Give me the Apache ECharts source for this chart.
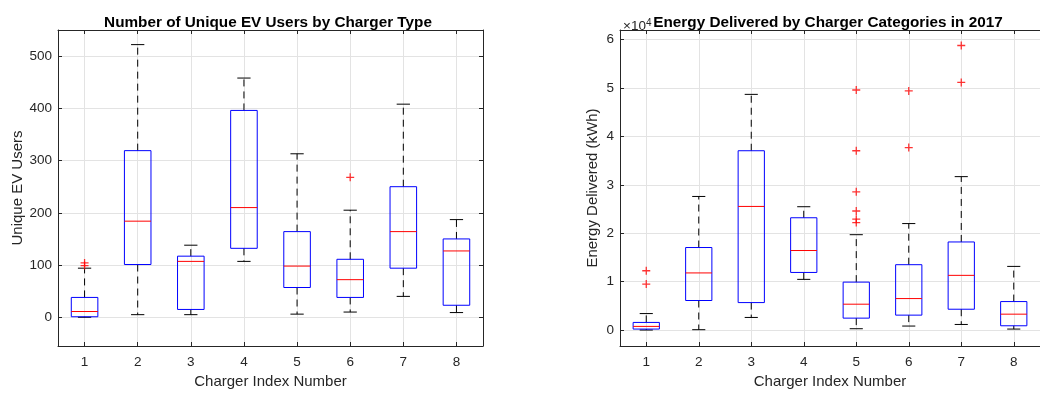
<!DOCTYPE html>
<html>
<head>
<meta charset="utf-8">
<script src="https://cdn.jsdelivr.net/npm/echarts@6/dist/echarts.min.js"></script>
<style>html,body{margin:0;padding:0;background:#fff}#c{width:1040px;height:394px}</style>
</head>
<body>
<div id="c"></div>
<script>
// ---- data ----
const categories = [1, 2, 3, 4, 5, 6, 7, 8];
const xTicks = [1, 2, 3, 4, 5, 6, 7, 8];

// Left: Number of unique EV users
const usersMin    = [0, 5, 5, 107, 6, 10, 40, 9];
const usersQ1     = [1, 101, 15, 132, 57, 38, 94, 23];
const usersMedian = [11, 184, 107, 210, 98, 72, 164, 127];
const usersQ3     = [38, 319, 117, 396, 164, 111, 250, 150];
const usersMax    = [94, 522, 138, 458, 313, 205, 408, 187];
const usersOutliers = [[1, 104], [1, 99], [6, 268]];
const usersTicks  = [0, 100, 200, 300, 400, 500];

// Right: Energy delivered (kWh)
const energyMin    = [0, 70, 2600, 10470, 270, 820, 1150, 200];
const energyQ1     = [200, 6100, 5670, 11900, 2460, 3080, 4300, 880];
const energyMedian = [750, 11800, 25540, 16430, 5340, 6500, 11300, 3280];
const energyQ3     = [1570, 17050, 37050, 23200, 9900, 13500, 18200, 5880];
const energyMax    = [3400, 27600, 48700, 25480, 19700, 22000, 31700, 13150];
const energyOutliers = [[1, 12250], [1, 9500], [5, 49600], [5, 37050], [5, 28560], [5, 24600], [5, 22900], [5, 22200], [6, 49400], [6, 37700], [7, 58800], [7, 51160]];
const energyTicks  = [0, 10000, 20000, 30000, 40000, 50000, 60000];

// ---- helpers ----
const TXT = '#262626';
const AX = '#262626';
const GRID = '#e3e3e3';
const FONT = '"Liberation Sans", Arial, Helvetica, sans-serif';

function boxData(mn, q1, md, q3, mx) {
  return categories.map((c, i) => [c, mn[i], q1[i], md[i], q3[i], mx[i]]);
}

function renderBox(params, api) {
  const x = api.value(0);
  const pMin = api.coord([x, api.value(1)]);
  const pQ1 = api.coord([x, api.value(2)]);
  const pMed = api.coord([x, api.value(3)]);
  const pQ3 = api.coord([x, api.value(4)]);
  const pMax = api.coord([x, api.value(5)]);
  const hw = api.size([0.5, 0])[0] / 2;
  const cw = hw / 2;
  const cx = pMed[0];
  const dash = { stroke: '#000', lineWidth: 1, lineDash: [7, 5], fill: null };
  const solid = { stroke: '#000', lineWidth: 1, fill: null };
  return {
    type: 'group',
    children: [
      { type: 'line', shape: { x1: cx, y1: pQ3[1], x2: cx, y2: pMax[1] }, style: dash },
      { type: 'line', shape: { x1: cx, y1: pQ1[1], x2: cx, y2: pMin[1] }, style: dash },
      { type: 'line', shape: { x1: cx - cw, y1: pMax[1], x2: cx + cw, y2: pMax[1] }, style: solid },
      { type: 'line', shape: { x1: cx - cw, y1: pMin[1], x2: cx + cw, y2: pMin[1] }, style: solid },
      { type: 'rect', shape: { x: cx - hw, y: pQ3[1], width: 2 * hw, height: pQ1[1] - pQ3[1] }, style: { stroke: '#0000ff', lineWidth: 1, fill: null } },
      { type: 'line', shape: { x1: cx - hw, y1: pMed[1], x2: cx + hw, y2: pMed[1] }, style: { stroke: '#ff0000', lineWidth: 1 } }
    ]
  };
}

const PLUS = 'path://M0,4.2L10,4.2L10,5.8L0,5.8Z M4.2,0L5.8,0L5.8,10L4.2,10Z';

function xAxisPair(gridIndex) {
  const base = {
    type: 'value', gridIndex, min: 0.5, max: 8.5,
    axisLine: { show: true, onZero: false, lineStyle: { color: AX, width: 1 } },
    axisTick: { show: true, inside: true, length: 4, customValues: xTicks, lineStyle: { color: AX } },
    splitLine: { show: false },
    axisLabel: { show: false }
  };
  return [
    Object.assign({}, base, {
      position: 'bottom',
      splitLine: { show: true, lineStyle: { color: GRID, width: 1 } },
      axisLabel: { show: true, customValues: xTicks, color: TXT, fontSize: 13.5, fontFamily: FONT, margin: 9 },
      name: 'Charger Index Number', nameLocation: 'middle', nameGap: 28,
      nameTextStyle: { color: TXT, fontSize: 15, fontFamily: FONT }
    }),
    Object.assign({}, base, { position: 'top' })
  ];
}

function yAxisPair(gridIndex, min, max, ticks, name, nameGap, fmt, rightTicks) {
  const base = {
    type: 'value', gridIndex, min, max,
    axisLine: { show: true, onZero: false, lineStyle: { color: AX, width: 1 } },
    axisTick: { show: true, inside: true, length: 4, customValues: ticks, lineStyle: { color: AX } },
    splitLine: { show: false },
    axisLabel: { show: false }
  };
  return [
    Object.assign({}, base, {
      position: 'left',
      splitLine: { show: true, lineStyle: { color: GRID, width: 1 } },
      axisLabel: { show: true, customValues: ticks, color: TXT, fontSize: 13.5, fontFamily: FONT, margin: 6, formatter: fmt },
      name, nameLocation: 'middle', nameGap,
      nameTextStyle: { color: TXT, fontSize: 15, fontFamily: FONT }
    }),
    Object.assign({}, base, { position: 'right',
      axisTick: { show: rightTicks, inside: true, length: 4, customValues: ticks, lineStyle: { color: AX } } })
  ];
}

const chart = echarts.init(document.getElementById('c'), null, { renderer: 'canvas' });
chart.setOption({
  backgroundColor: '#ffffff',
  animation: false,
  textStyle: { fontFamily: FONT },
  title: [
    { text: 'Number of Unique EV Users by Charger Type', left: 263, top: 10, textAlign: 'center',
      textStyle: { fontSize: 15.3, fontWeight: 'bold', color: '#000', fontFamily: FONT } },
    { text: 'Energy Delivered by Charger Categories in 2017', left: 823, top: 10, textAlign: 'center',
      textStyle: { fontSize: 15.3, fontWeight: 'bold', color: '#000', fontFamily: FONT } },
    { text: '×10{s|4}', left: 618, top: 13,
      textStyle: { fontSize: 13.5, fontWeight: 'normal', color: TXT, fontFamily: FONT, lineHeight: 16,
        rich: { s: { fontSize: 10, lineHeight: 10, verticalAlign: 'top', color: TXT, fontFamily: FONT } } } }
  ],
  grid: [
    { left: 58, top: 30, width: 425, height: 317, containLabel: false },
    { left: 620, top: 30, width: 424, height: 317, containLabel: false }
  ],
  xAxis: [...xAxisPair(0), ...xAxisPair(1)],
  yAxis: [
    ...yAxisPair(0, -55, 550, usersTicks, 'Unique EV Users', 33, v => String(v), true),
    ...yAxisPair(1, -3300, 62000, energyTicks, 'Energy Delivered (kWh)', 20, v => String(v / 10000), false)
  ],
  series: [
    { type: 'custom', xAxisIndex: 0, yAxisIndex: 0, renderItem: renderBox,
      data: boxData(usersMin, usersQ1, usersMedian, usersQ3, usersMax), encode: { x: 0, y: [1, 2, 3, 4, 5] }, z: 3 },
    { type: 'scatter', xAxisIndex: 0, yAxisIndex: 0, data: usersOutliers, symbol: PLUS, symbolSize: 8,
      itemStyle: { color: '#ff0000' }, z: 4 },
    { type: 'custom', xAxisIndex: 2, yAxisIndex: 2, renderItem: renderBox,
      data: boxData(energyMin, energyQ1, energyMedian, energyQ3, energyMax), encode: { x: 0, y: [1, 2, 3, 4, 5] }, z: 3 },
    { type: 'scatter', xAxisIndex: 2, yAxisIndex: 2, data: energyOutliers, symbol: PLUS, symbolSize: 8,
      itemStyle: { color: '#ff0000' }, z: 4 }
  ]
});
</script>
</body>
</html>
